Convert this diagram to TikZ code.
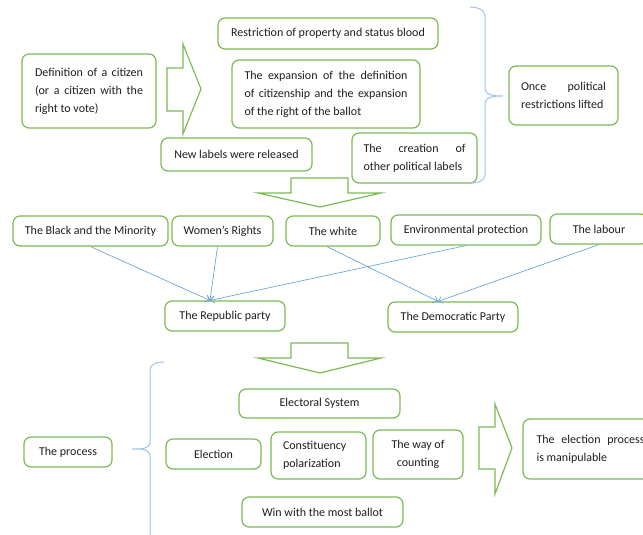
\documentclass[tikz,border=0pt]{standalone}
\usepackage{fontspec}
\setmainfont{Carlito}
\usetikzlibrary{arrows.meta}
\definecolor{bgreen}{RGB}{125,185,85}
\definecolor{lblue}{RGB}{91,155,213}
\definecolor{brblue}{RGB}{157,195,230}
\definecolor{txt}{RGB}{30,30,30}
\newcommand{\jl}[2]{\makebox[#1pt][s]{#2}}
\newcommand{\lln}[2]{\makebox[#1pt][l]{#2}}
\begin{document}
\begin{tikzpicture}[x=1pt,y=-1pt,
  box/.style={draw=bgreen, line width=1.2pt, rounded corners=7pt, fill=white, inner sep=0pt, align=center, text=txt, font=\fontsize{12}{18}\selectfont},
  conn/.style={draw=lblue, line width=0.6pt, -{Straight Barb[length=4pt,width=7pt]}},
  blockarrow/.style={draw=bgreen, line width=1.2pt, fill=white, line join=miter},
  brace/.style={draw=brblue, line width=1pt}]
\useasboundingbox (0,0) rectangle (643,535);
\clip (0,0) rectangle (643,535);

% top section
\node[box, minimum width=134pt, minimum height=74pt] (def) at (89,91)
  {\jl{108}{Definition of a citizen}\\\jl{108}{(or a citizen with the}\\\lln{108}{right to vote)}};
\draw[blockarrow] (167,68) -- (183,68) -- (183,44) -- (201,89) -- (183,134) -- (183,111) -- (167,111) -- cycle;
\node[box, minimum width=220pt, minimum height=31pt] (restr) at (328,33.5) {Restriction of property and status blood};
\node[box, minimum width=188pt, minimum height=68pt] (exp) at (326,94)
  {\jl{163}{The expansion of the definition}\\\jl{163}{of citizenship and the expansion}\\\lln{163}{of the right of the ballot}};
\node[box, minimum width=151pt, minimum height=33pt] (newl) at (236.5,154.5) {New labels were released};
\node[box, minimum width=125pt, minimum height=50pt] (creat) at (414.5,158)
  {\jl{102}{The creation of}\\\lln{102}{other political labels}};
\draw[brace] (470,7) to[out=0,in=90] (485,16) -- (485,88) to[out=-90,in=180] (503,96)
  to[out=180,in=90] (485,104) -- (485,175) to[out=-90,in=0] (470,183);
\node[box, minimum width=109pt, minimum height=59pt] (once) at (563.5,95.5)
  {\jl{85}{Once political}\\\lln{85}{restrictions lifted}};
\draw[blockarrow] (291,178) -- (348,178) -- (348,193) -- (381,193) -- (320,207) -- (258,193) -- (291,193) -- cycle;

% groups and parties
\node[box, minimum width=155pt, minimum height=30pt] (black) at (90.5,231) {The Black and the Minority};
\node[box, minimum width=101pt, minimum height=30pt] (women) at (222.5,231) {Women's Rights};
\node[box, minimum width=94pt, minimum height=30pt] (white) at (333,231) {The white};
\node[box, minimum width=150pt, minimum height=30pt] (env) at (466,230) {Environmental protection};
\node[box, minimum width=98pt, minimum height=30pt] (labour) at (599,229) {The labour};
\node[box, minimum width=120pt, minimum height=30pt] (rep) at (225,316) {The Republic party};
\node[box, minimum width=130pt, minimum height=30pt] (dem) at (453,317) {The Democratic Party};

\draw[conn] (black.south) -- ([xshift=-15pt]rep.north);
\draw[conn] ([xshift=-5pt]women.south) -- ([xshift=-15pt]rep.north);
\draw[conn] (env.south) -- ([xshift=-15pt]rep.north);
\draw[conn] ([xshift=-6pt]white.south) -- ([xshift=-15pt]dem.north);
\draw[conn] (labour.south) -- ([xshift=-15pt]dem.north);

% bottom section
\draw[blockarrow] (291,343) -- (348,343) -- (348,358) -- (381,358) -- (320,373) -- (258,358) -- (291,358) -- cycle;
\node[box, minimum width=88pt, minimum height=30pt] (process) at (68,452) {The process};
\draw[brace] (164,362) to[out=180,in=90] (150,370) -- (150,442) to[out=-90,in=0] (132,449)
  to[out=0,in=90] (150,456) -- (150,545);
\node[box, minimum width=161pt, minimum height=29pt] (elecsys) at (319.5,403.5) {Electoral System};
\node[box, minimum width=95pt, minimum height=30pt] (election) at (213.5,454) {Election};
\node[box, minimum width=95pt, minimum height=47pt] (const) at (318.5,455.5)
  {\lln{71}{Constituency}\\\lln{71}{polarization}};
\node[box, minimum width=90pt, minimum height=49pt] (way) at (418,454.5) {The way of\\counting};
\node[box, minimum width=161pt, minimum height=30pt] (win) at (322.5,512) {Win with the most ballot};
\draw[blockarrow] (479,427) -- (495,427) -- (495,404) -- (512,448) -- (495,494) -- (495,469) -- (479,469) -- cycle;
\node[box, minimum width=135pt, minimum height=60pt] (manip) at (590.5,449)
  {\jl{108}{The election process}\\\lln{108}{is manipulable}};
\end{tikzpicture}
\end{document}
